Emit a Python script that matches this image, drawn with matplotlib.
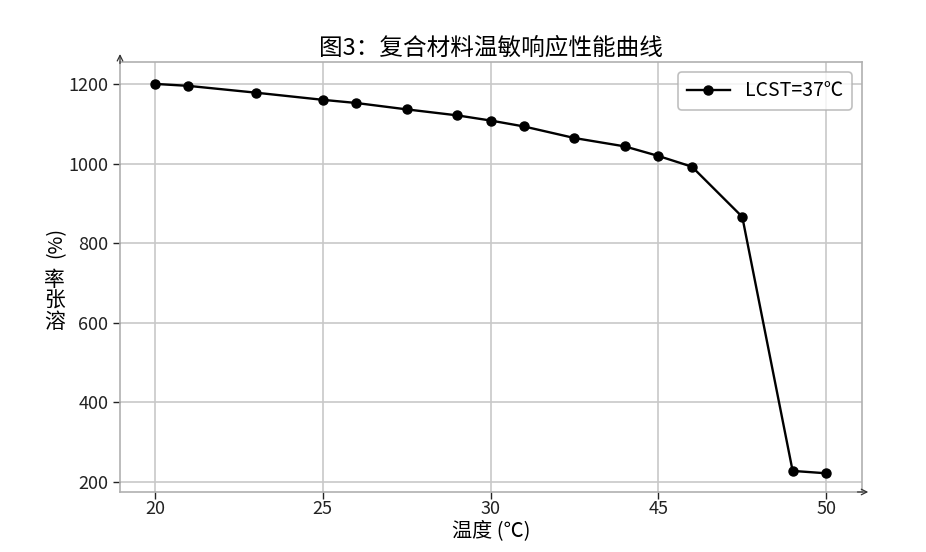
import matplotlib.pyplot as plt

plt.rcParams['font.family'] = ['Noto Sans CJK SC', 'DejaVu Sans']

# temperature positions (axis is evenly spaced; labels as printed on the chart)
temp = [20, 21, 23, 25, 26, 27.5, 29, 30, 31, 32.5, 34, 35, 36, 37.5, 39, 40]
swell = [1200, 1195, 1178, 1160, 1152, 1136, 1121, 1108, 1093, 1064, 1043, 1019, 992, 866, 228, 222]
xtick_pos = [20, 25, 30, 35, 40]
xtick_labels = ["20", "25", "30", "45", "50"]
ytick_pos = [200, 400, 600, 800, 1000, 1200]

fig = plt.figure(figsize=(9.26, 5.52), dpi=100)
ax = fig.add_axes([0.1296, 0.1087, 0.8014, 0.779])

ax.plot(temp, swell, color="black", lw=1.7, marker="o", markersize=6.5, label="LCST=37℃", zorder=3)

ax.set_xlim(18.96, 41.07)
ax.set_ylim(175, 1255)
ax.set_xticks(xtick_pos)
ax.set_xticklabels(xtick_labels)
ax.set_yticks(ytick_pos)
ax.grid(True, color="#c8c8c8", lw=1.2)
ax.set_axisbelow(True)
for s in ax.spines.values():
    s.set_color("#b0b0b0")
    s.set_linewidth(1.2)
ax.tick_params(axis="both", labelsize=13, colors="#222222", length=5, width=1)
ax.tick_params(axis="x", pad=1)

# axis arrows
ax.annotate("", xy=(0, 1.025), xytext=(0, 0.99), xycoords="axes fraction",
            arrowprops=dict(arrowstyle="->", color="#333333", lw=0.9))
ax.annotate("", xy=(1.012, 0), xytext=(0.99, 0), xycoords="axes fraction",
            arrowprops=dict(arrowstyle="->", color="#333333", lw=0.9))

ax.set_title("图3：复合材料温敏响应性能曲线", fontsize=17, pad=5)
ax.set_xlabel("温度 (℃)", fontsize=14.5, labelpad=1)

# y label: upright characters stacked bottom-to-top, then "(%)" rotated
fig.text(0.059, 0.4547, "率\n张\n溶", fontsize=15, ha="center", va="center", linespacing=0.95)
fig.text(0.060, 0.56, "(%)", fontsize=14, ha="center", va="center", rotation=90)

leg = ax.legend(loc="upper right", fontsize=14, frameon=True, fancybox=True,
                edgecolor="#b0b0b0", handlelength=2.2, borderpad=0.45)
leg.get_frame().set_linewidth(1.2)

fig.savefig("out.png", dpi=100)
